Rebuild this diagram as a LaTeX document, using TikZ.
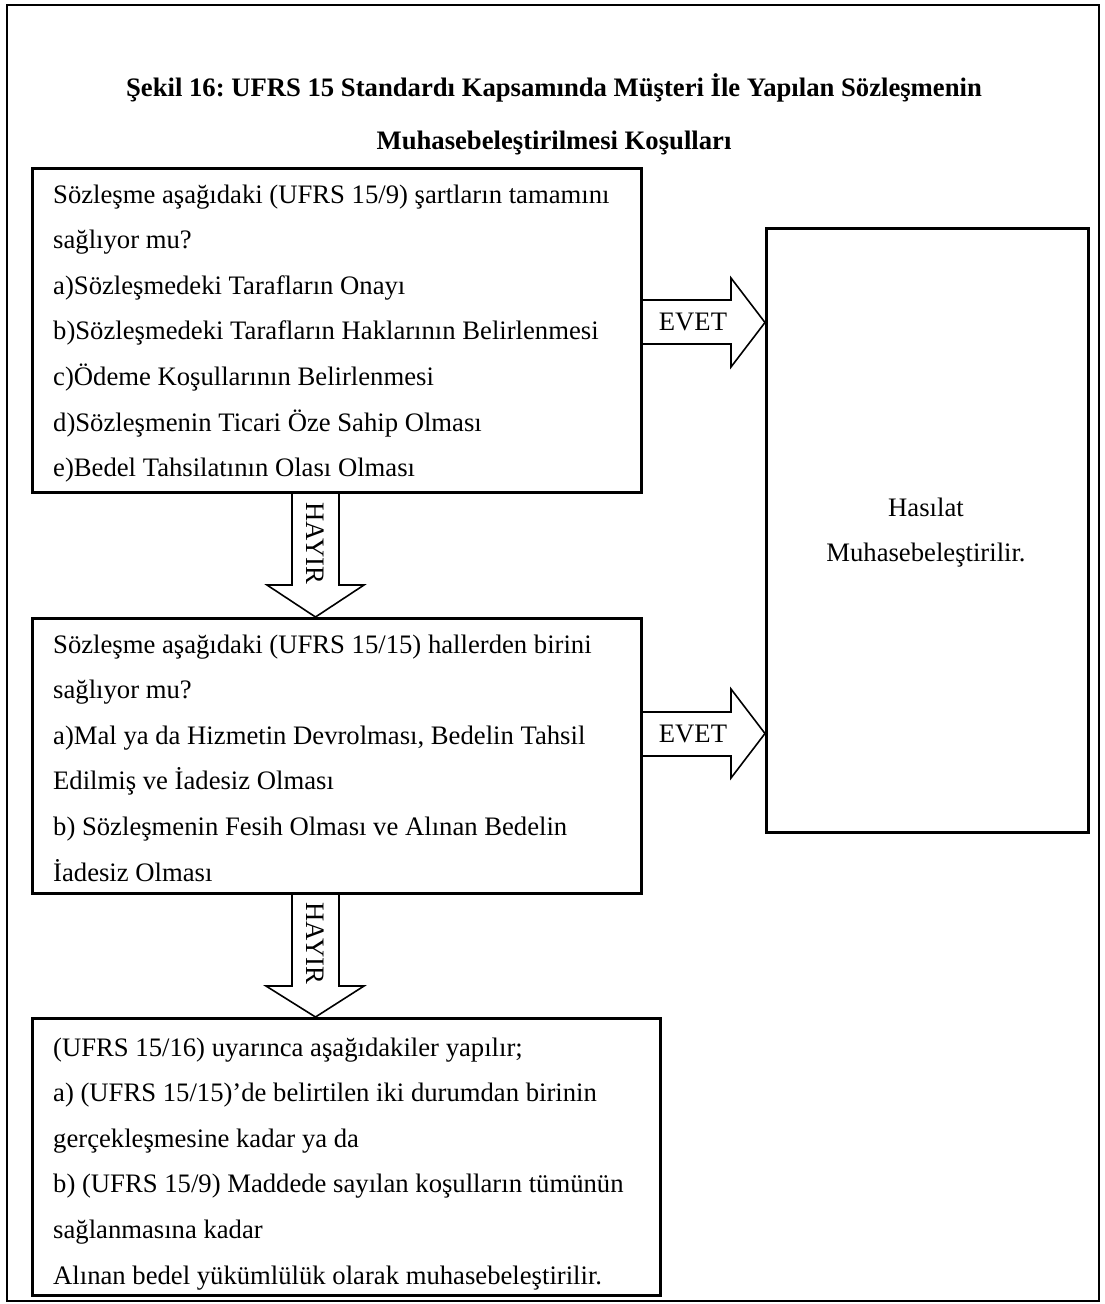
\documentclass[tikz,border=0pt]{standalone}
\usepackage{fontspec}
\setmainfont{Liberation Serif}
\usetikzlibrary{calc}
\newcommand\bodyfont{\fontsize{26.67}{45.6}\selectfont}
\frenchspacing
\begin{document}
\begin{tikzpicture}[x=1pt,y=-1pt,
  frame/.style={draw, line width=2pt},
  box/.style={draw, line width=2.6pt, inner sep=0pt, anchor=north west},
  boxtext/.style={font=\bodyfont, align=left, inner sep=0pt, anchor=base west},
  blockarrow/.style={draw, line width=1.6pt, line join=miter},
  lbl/.style={font=\bodyfont, inner sep=0pt}
]
\useasboundingbox (0,0) rectangle (1105,1304);
\draw[frame] (7,5) rectangle (1099,1301);

% title (anchored at the baseline of its last line)
\node[font=\bfseries\fontsize{26.67}{53}\selectfont, align=center, anchor=base, inner sep=0pt] (title) at (554,149)
  {Şekil 16: UFRS 15 Standardı Kapsamında Müşteri İle Yapılan Sözleşmenin\\Muhasebeleştirilmesi Koşulları};

% boxes
\node[box, minimum width=609, minimum height=324] (q1) at (31,167) {};
\node[box, minimum width=609, minimum height=275] (q2) at (31,617) {};
\node[box, minimum width=628, minimum height=277] (q3) at (31,1017) {};
\node[box, minimum width=322, minimum height=604] (res) at (765,227) {};

% box texts (anchored at the baseline of the last line)
\node[boxtext] (q1text) at (53,476.6) {Sözleşme aşağıdaki (UFRS 15/9) şartların tamamını\\
sağlıyor mu?\\
a)Sözleşmedeki Tarafların Onayı\\
b)Sözleşmedeki Tarafların Haklarının Belirlenmesi\\
c)Ödeme Koşullarının Belirlenmesi\\
d)Sözleşmenin Ticari Öze Sahip Olması\\
e)Bedel Tahsilatının Olası Olması};

\node[boxtext] (q2text) at (53,881) {Sözleşme aşağıdaki (UFRS 15/15) hallerden birini\\
sağlıyor mu?\\
a)Mal ya da Hizmetin Devrolması, Bedelin Tahsil\\
Edilmiş ve İadesiz Olması\\
b) Sözleşmenin Fesih Olması ve Alınan Bedelin\\
İadesiz Olması};

\node[boxtext] (q3text) at (53,1284) {(UFRS 15/16) uyarınca aşağıdakiler yapılır;\\
a) (UFRS 15/15)’de belirtilen iki durumdan birinin\\
gerçekleşmesine kadar ya da\\
b) (UFRS 15/9) Maddede sayılan koşulların tümünün\\
sağlanmasına kadar\\
Alınan bedel yükümlülük olarak muhasebeleştirilir.};

\node[lbl, align=center, anchor=base] (restext) at (926,561.6) {Hasılat\\Muhasebeleştirilir.};

% yes arrows
\draw[blockarrow] (q1.east |- 0,300) -- (731,300) -- (731,278) -- (res.west |- 0,322.5)
  -- (731,367) -- (731,344) -- (q1.east |- 0,344);
\draw[blockarrow] (q2.east |- 0,712) -- (731,712) -- (731,689) -- (res.west |- 0,733.5)
  -- (731,778) -- (731,756) -- (q2.east |- 0,756);
\node[lbl] (yes1) at (693,322) {EVET};
\node[lbl] (yes2) at (693,734) {EVET};

% no arrows
\draw[blockarrow] (q1.south -| 292,0) -- (292,585) -- (267,585) -- (q2.north -| 315.5,0)
  -- (364,585) -- (339,585) -- (q1.south -| 339,0);
\draw[blockarrow] (q2.south -| 292,0) -- (292,986) -- (266,986) -- (q3.north -| 315.5,0)
  -- (364,986) -- (339,986) -- (q2.south -| 339,0);
\node[lbl, rotate=-90] (no1) at (315,543) {HAYIR};
\node[lbl, rotate=-90] (no2) at (315,943) {HAYIR};
\end{tikzpicture}
\end{document}
